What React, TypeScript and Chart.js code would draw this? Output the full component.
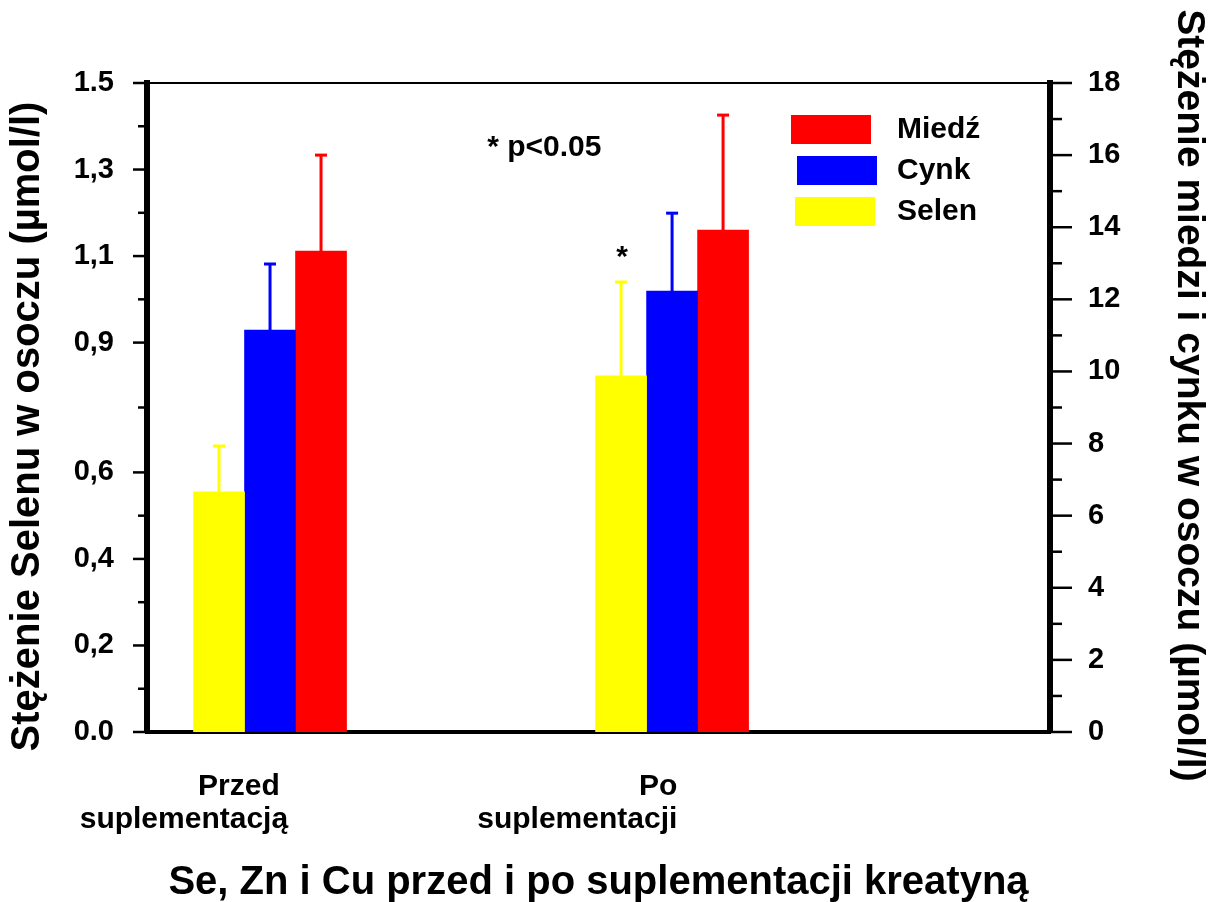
import { useEffect, useRef } from 'react';
import { Chart, registerables } from 'chart.js';

Chart.register(...registerables);

const FONT = 'Liberation Sans';

// ---- data ----
const GROUP_POSITIONS = [1, 2];
const CATEGORY_LABELS = [['Przed ', 'suplementacją'], ['Po', 'suplementacji']];
const CATEGORY_LABEL_POSITIONS = [1.045, 2.013];

const SELEN = [0.555, 0.823];
const SELEN_SD = [0.106, 0.217];
const CYNK = [11.15, 12.23];
const CYNK_SD = [1.83, 2.16];
const MIEDZ = [13.34, 13.92];
const MIEDZ_SD = [2.66, 3.19];

const LEFT_TICKS = [0, 0.2, 0.4, 0.6, 0.9, 1.1, 1.3, 1.5];
const LEFT_TICK_LABELS = ['0.0', '0,2', '0,4', '0,6', '0,9', '1,1', '1,3', '1.5'];
const LEFT_MINOR_TICKS = [0.1, 0.3, 0.5, 0.75, 1.0, 1.2, 1.4];
const RIGHT_TICKS = [0, 2, 4, 6, 8, 10, 12, 14, 16, 18];
const RIGHT_MINOR_TICKS = [1, 3, 5, 7, 9, 11, 13, 15, 17];

const LEFT_TITLE = 'Stężenie Selenu w osoczu (µmol/l)';
const RIGHT_TITLE = 'Stężenie miedzi i cynku w osoczu (µmol/l)';
const X_TITLE = 'Se, Zn i Cu przed i po suplementacji kreatyną';
const NOTE = '* p<0.05';
const SIGNIFICANT = { dataset: 0, index: 1 };

const COLORS = { Selen: '#ffff00', Cynk: '#0000ff', Miedz: '#ff0000' };

const decorPlugin = {
  id: 'decor',
  afterDatasetsDraw(chart: any) {
    const ctx = chart.ctx;
    ctx.save();
    chart.data.datasets.forEach((ds: any, di: number) => {
      const meta = chart.getDatasetMeta(di);
      const scale = chart.scales[ds.yAxisID];
      meta.data.forEach((el: any, i: number) => {
        const top = scale.getPixelForValue(ds.data[i].y + ds.errors[i]);
        ctx.strokeStyle = ds.backgroundColor;
        ctx.lineWidth = 3;
        ctx.beginPath();
        ctx.moveTo(el.x, el.y);
        ctx.lineTo(el.x, top);
        ctx.stroke();
        ctx.beginPath();
        ctx.moveTo(el.x - 6, top);
        ctx.lineTo(el.x + 6, top);
        ctx.stroke();
      });
    });
    ctx.restore();
  },
  afterDraw(chart: any) {
    const ctx = chart.ctx;
    const { left, right, top, bottom } = chart.chartArea;
    const y = chart.scales.y;
    const y2 = chart.scales.y2;
    const x = chart.scales.x;
    ctx.save();
    ctx.strokeStyle = '#000';
    // top frame line
    ctx.lineWidth = 2;
    ctx.beginPath();
    ctx.moveTo(left, top);
    ctx.lineTo(right, top);
    ctx.stroke();
    // tick marks
    ctx.lineWidth = 2.5;
    const tick = (x0: number, x1: number, py: number) => {
      ctx.beginPath();
      ctx.moveTo(x0, py);
      ctx.lineTo(x1, py);
      ctx.stroke();
    };
    LEFT_TICKS.forEach((v) => tick(left - 14, left, y.getPixelForValue(v)));
    LEFT_MINOR_TICKS.forEach((v) => tick(left - 9, left, y.getPixelForValue(v)));
    RIGHT_TICKS.forEach((v) => tick(right, right + 22, y2.getPixelForValue(v)));
    RIGHT_MINOR_TICKS.forEach((v) => tick(right, right + 12, y2.getPixelForValue(v)));

    // note text
    ctx.fillStyle = '#000';
    ctx.font = `bold 30px "${FONT}"`;
    ctx.textAlign = 'left';
    ctx.textBaseline = 'middle';
    ctx.fillText(NOTE, x.getPixelForValue(1.54), y.getPixelForValue(1.35));

    // significance star
    const sd = chart.data.datasets[SIGNIFICANT.dataset];
    const sel = chart.getDatasetMeta(SIGNIFICANT.dataset).data[SIGNIFICANT.index];
    const errTop = chart.scales[sd.yAxisID].getPixelForValue(
      sd.data[SIGNIFICANT.index].y + sd.errors[SIGNIFICANT.index]
    );
    ctx.textAlign = 'center';
    ctx.fillText('*', sel.x + 1, errTop - 24);

    // legend (reverse order)
    const items = [...chart.data.datasets].reverse();
    const shifts = [-3, 3, 1];
    items.forEach((ds: any, i: number) => {
      const by = top + 32 + i * 41;
      ctx.fillStyle = ds.backgroundColor;
      ctx.fillRect(right - 256 + shifts[i], by, 80, 29);
      ctx.fillStyle = '#000';
      ctx.textAlign = 'left';
      ctx.textBaseline = 'middle';
      ctx.fillText(ds.label, right - 153, by + 15);
    });

    // left axis title
    ctx.save();
    ctx.font = `bold 40px "${FONT}"`;
    ctx.translate(28, (top + bottom) / 2 + 19);
    ctx.rotate(-Math.PI / 2);
    ctx.textAlign = 'center';
    ctx.textBaseline = 'middle';
    ctx.fillText(LEFT_TITLE, 0, 0);
    ctx.restore();

    // right axis title
    ctx.save();
    ctx.font = `bold 39px "${FONT}"`;
    ctx.translate(1189, (top + bottom) / 2 - 12);
    ctx.rotate(Math.PI / 2);
    ctx.textAlign = 'center';
    ctx.textBaseline = 'middle';
    ctx.fillText(RIGHT_TITLE, 0, 0);
    ctx.restore();

    ctx.restore();
  },
};

export default function App() {
  const ref = useRef<HTMLCanvasElement>(null);
  useEffect(() => {
    const canvas = ref.current!;
    Chart.defaults.font.family = FONT;
    Chart.defaults.color = '#000';
    const chart = new Chart(canvas, {
      type: 'bar',
      data: {
        datasets: [
          {
            label: 'Selen',
            data: GROUP_POSITIONS.map((x, i) => ({ x, y: SELEN[i] })),
            errors: SELEN_SD,
            backgroundColor: COLORS.Selen,
            yAxisID: 'y',
          },
          {
            label: 'Cynk',
            data: GROUP_POSITIONS.map((x, i) => ({ x, y: CYNK[i] })),
            errors: CYNK_SD,
            backgroundColor: COLORS.Cynk,
            yAxisID: 'y2',
          },
          {
            label: 'Miedź',
            data: GROUP_POSITIONS.map((x, i) => ({ x, y: MIEDZ[i] })),
            errors: MIEDZ_SD,
            backgroundColor: COLORS.Miedz,
            yAxisID: 'y2',
          },
        ] as any,
      },
      options: {
        responsive: false,
        animation: false,
        layout: { padding: { top: 83, left: 0, right: 0, bottom: 0 } },
        datasets: { bar: { barThickness: 51 } } as any,
        plugins: { legend: { display: false }, tooltip: { enabled: false } },
        scales: {
          x: {
            type: 'linear',
            offset: false,
            min: 0.694,
            max: 2.94,
            grid: { display: false, drawTicks: false },
            border: { display: true, width: 4, color: '#000' },
            afterBuildTicks: (s: any) => {
              s.ticks = CATEGORY_LABEL_POSITIONS.map((v) => ({ value: v }));
            },
            afterFit: (s: any) => {
              s.height = 170;
            },
            ticks: {
              autoSkip: false,
              maxRotation: 0,
              minRotation: 0,
              align: 'end',
              padding: 38,
              font: { size: 30, weight: 'bold', lineHeight: 1.1 },
              callback: (_v: any, i: number) => CATEGORY_LABELS[i],
            },
            title: {
              display: true,
              text: X_TITLE,
              font: { size: 40, weight: 'bold', lineHeight: 0.95 },
              padding: { top: 0, bottom: 0 },
            },
          },
          y: {
            type: 'linear',
            position: 'left',
            min: 0,
            max: 1.5,
            grid: { display: false, drawTicks: false },
            border: { display: true, width: 6, color: '#000' },
            afterBuildTicks: (s: any) => {
              s.ticks = LEFT_TICKS.map((v) => ({ value: v }));
            },
            afterFit: (s: any) => {
              s.width = 147;
            },
            ticks: {
              autoSkip: false,
              padding: 33,
              font: { size: 29, weight: 'bold' },
              callback: (_v: any, i: number) => LEFT_TICK_LABELS[i],
            },
          },
          y2: {
            type: 'linear',
            position: 'right',
            min: 0,
            max: 18,
            grid: { display: false, drawTicks: false },
            border: { display: true, width: 6, color: '#000' },
            afterBuildTicks: (s: any) => {
              s.ticks = RIGHT_TICKS.map((v) => ({ value: v }));
            },
            afterFit: (s: any) => {
              s.width = 158;
            },
            ticks: {
              autoSkip: false,
              padding: 38,
              font: { size: 29, weight: 'bold' },
            },
          },
        },
      } as any,
      plugins: [decorPlugin],
    });
    return () => chart.destroy();
  }, []);
  return (
    <div style={{ position: 'fixed', left: 0, top: 0, width: 1208, height: 902, background: '#fff' }}>
      <canvas ref={ref} width={1208} height={902} style={{ display: 'block' }} />
    </div>
  );
}
